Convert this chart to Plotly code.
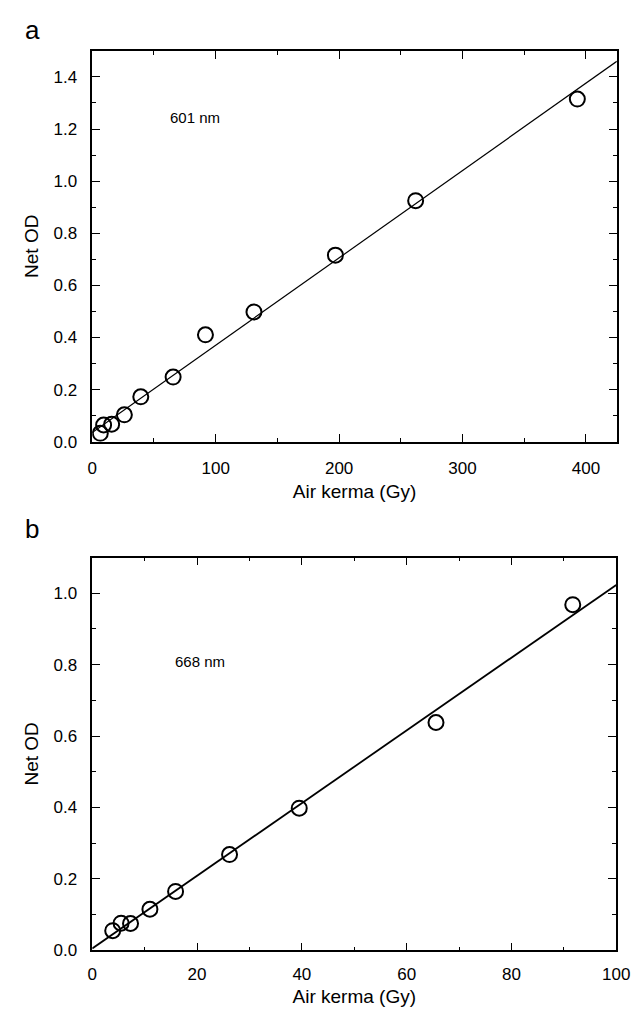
import plotly.graph_objects as go

# Panel a (601 nm)
kerma_a = [6.5, 9.2, 15.7, 26.0, 39.3, 65.5, 91.7, 131.0, 197.0, 262.0, 393.0]
od_a = [0.032, 0.064, 0.067, 0.103, 0.172, 0.248, 0.410, 0.498, 0.716, 0.925, 1.315]
fit_x_a = [0, 425]
fit_y_a = [0.035, 1.46]

# Panel b (668 nm)
kerma_b = [3.9, 5.5, 7.3, 11.0, 15.9, 26.2, 39.5, 65.6, 91.7]
od_b = [0.055, 0.076, 0.075, 0.115, 0.165, 0.268, 0.398, 0.638, 0.968]
fit_x_b = [0, 100]
fit_y_b = [0.005, 1.023]

FONT = "Liberation Sans, Arial, sans-serif"
W, H = 640, 1013

fig = go.Figure()
marker = dict(symbol="circle-open", size=15, color="black", line=dict(width=2, color="black"))

fig.add_trace(go.Scatter(x=fit_x_a, y=fit_y_a, mode="lines", line=dict(color="black", width=1.2),
                         xaxis="x", yaxis="y", showlegend=False))
fig.add_trace(go.Scatter(x=kerma_a, y=od_a, mode="markers", marker=marker,
                         xaxis="x", yaxis="y", showlegend=False))
fig.add_trace(go.Scatter(x=fit_x_b, y=fit_y_b, mode="lines", line=dict(color="black", width=1.8),
                         xaxis="x2", yaxis="y2", showlegend=False))
fig.add_trace(go.Scatter(x=kerma_b, y=od_b, mode="markers", marker=marker,
                         xaxis="x2", yaxis="y2", showlegend=False))

def axis_common(size):
    return dict(showline=True, linecolor="black", linewidth=1.5, mirror="ticks",
                ticks="inside", ticklen=8, tickwidth=1.2, tickcolor="black",
                showgrid=False, zeroline=False,
                tickfont=dict(family=FONT, size=size, color="black"),
                minor=dict(ticks="inside", ticklen=4, tickwidth=1, tickcolor="black", showgrid=False))

TITLE_SIZE = 19
xa = axis_common(17)
xa.update(domain=[81.7 / W, 622.3 / W], range=[0, 425], tickvals=[0, 100, 200, 300, 400],
          ticktext=["0", "100", "200", "300", "400"], minor=dict(xa["minor"], dtick=50, tick0=0),
          anchor="y", ticklabelstandoff=10,
          title=dict(text="Air kerma (Gy)", font=dict(family=FONT, size=TITLE_SIZE, color="black"), standoff=8))
ya = axis_common(17)
ya.update(domain=[1 - 438 / H, 1 - 43.3 / H], range=[0, 1.5],
          tickvals=[0, 0.2, 0.4, 0.6, 0.8, 1.0, 1.2, 1.4],
          ticktext=["0.0", "0.2", "0.4", "0.6", "0.8", "1.0", "1.2", "1.4"],
          minor=dict(ya["minor"], dtick=0.1, tick0=0), anchor="x", ticklabelstandoff=10,
          title=dict(text="Net OD", font=dict(family=FONT, size=TITLE_SIZE, color="black"), standoff=10))

xb = axis_common(17)
xb.update(domain=[81.7 / W, 621.7 / W], range=[0, 100], tickvals=[0, 20, 40, 60, 80, 100],
          ticktext=["0", "20", "40", "60", "80", "100"], minor=dict(xb["minor"], dtick=10, tick0=0),
          anchor="y2", ticklabelstandoff=8,
          title=dict(text="Air kerma (Gy)", font=dict(family=FONT, size=TITLE_SIZE, color="black"), standoff=6))
yb = axis_common(17)
yb.update(domain=[1 - 951.7 / H, 1 - 555 / H], range=[0, 1.1],
          tickvals=[0, 0.2, 0.4, 0.6, 0.8, 1.0],
          ticktext=["0.0", "0.2", "0.4", "0.6", "0.8", "1.0"],
          minor=dict(yb["minor"], dtick=0.1, tick0=0), anchor="x2", ticklabelstandoff=10,
          title=dict(text="Net OD", font=dict(family=FONT, size=TITLE_SIZE, color="black"), standoff=10))

fig.update_layout(
    width=W, height=H, margin=dict(l=0, r=0, t=0, b=0),
    paper_bgcolor="white", plot_bgcolor="white",
    font=dict(family=FONT, color="black"),
    xaxis=xa, yaxis=ya, xaxis2=xb, yaxis2=yb,
    annotations=[
        dict(text="a", x=20 / W, y=1 - 22 / H, xref="paper", yref="paper", showarrow=False,
             xanchor="center", yanchor="middle", font=dict(family=FONT, size=26, color="black")),
        dict(text="b", x=20 / W, y=1 - 526 / H, xref="paper", yref="paper", showarrow=False,
             xanchor="center", yanchor="middle", font=dict(family=FONT, size=26, color="black")),
        dict(text="601 nm", x=61.5, y=1.245, xref="x", yref="y", showarrow=False,
             xanchor="left", yanchor="middle", font=dict(family=FONT, size=15, color="black")),
        dict(text="668 nm", x=15.4, y=0.81, xref="x2", yref="y2", showarrow=False,
             xanchor="left", yanchor="middle", font=dict(family=FONT, size=15, color="black")),
    ],
)

fig.write_html("out.html")
